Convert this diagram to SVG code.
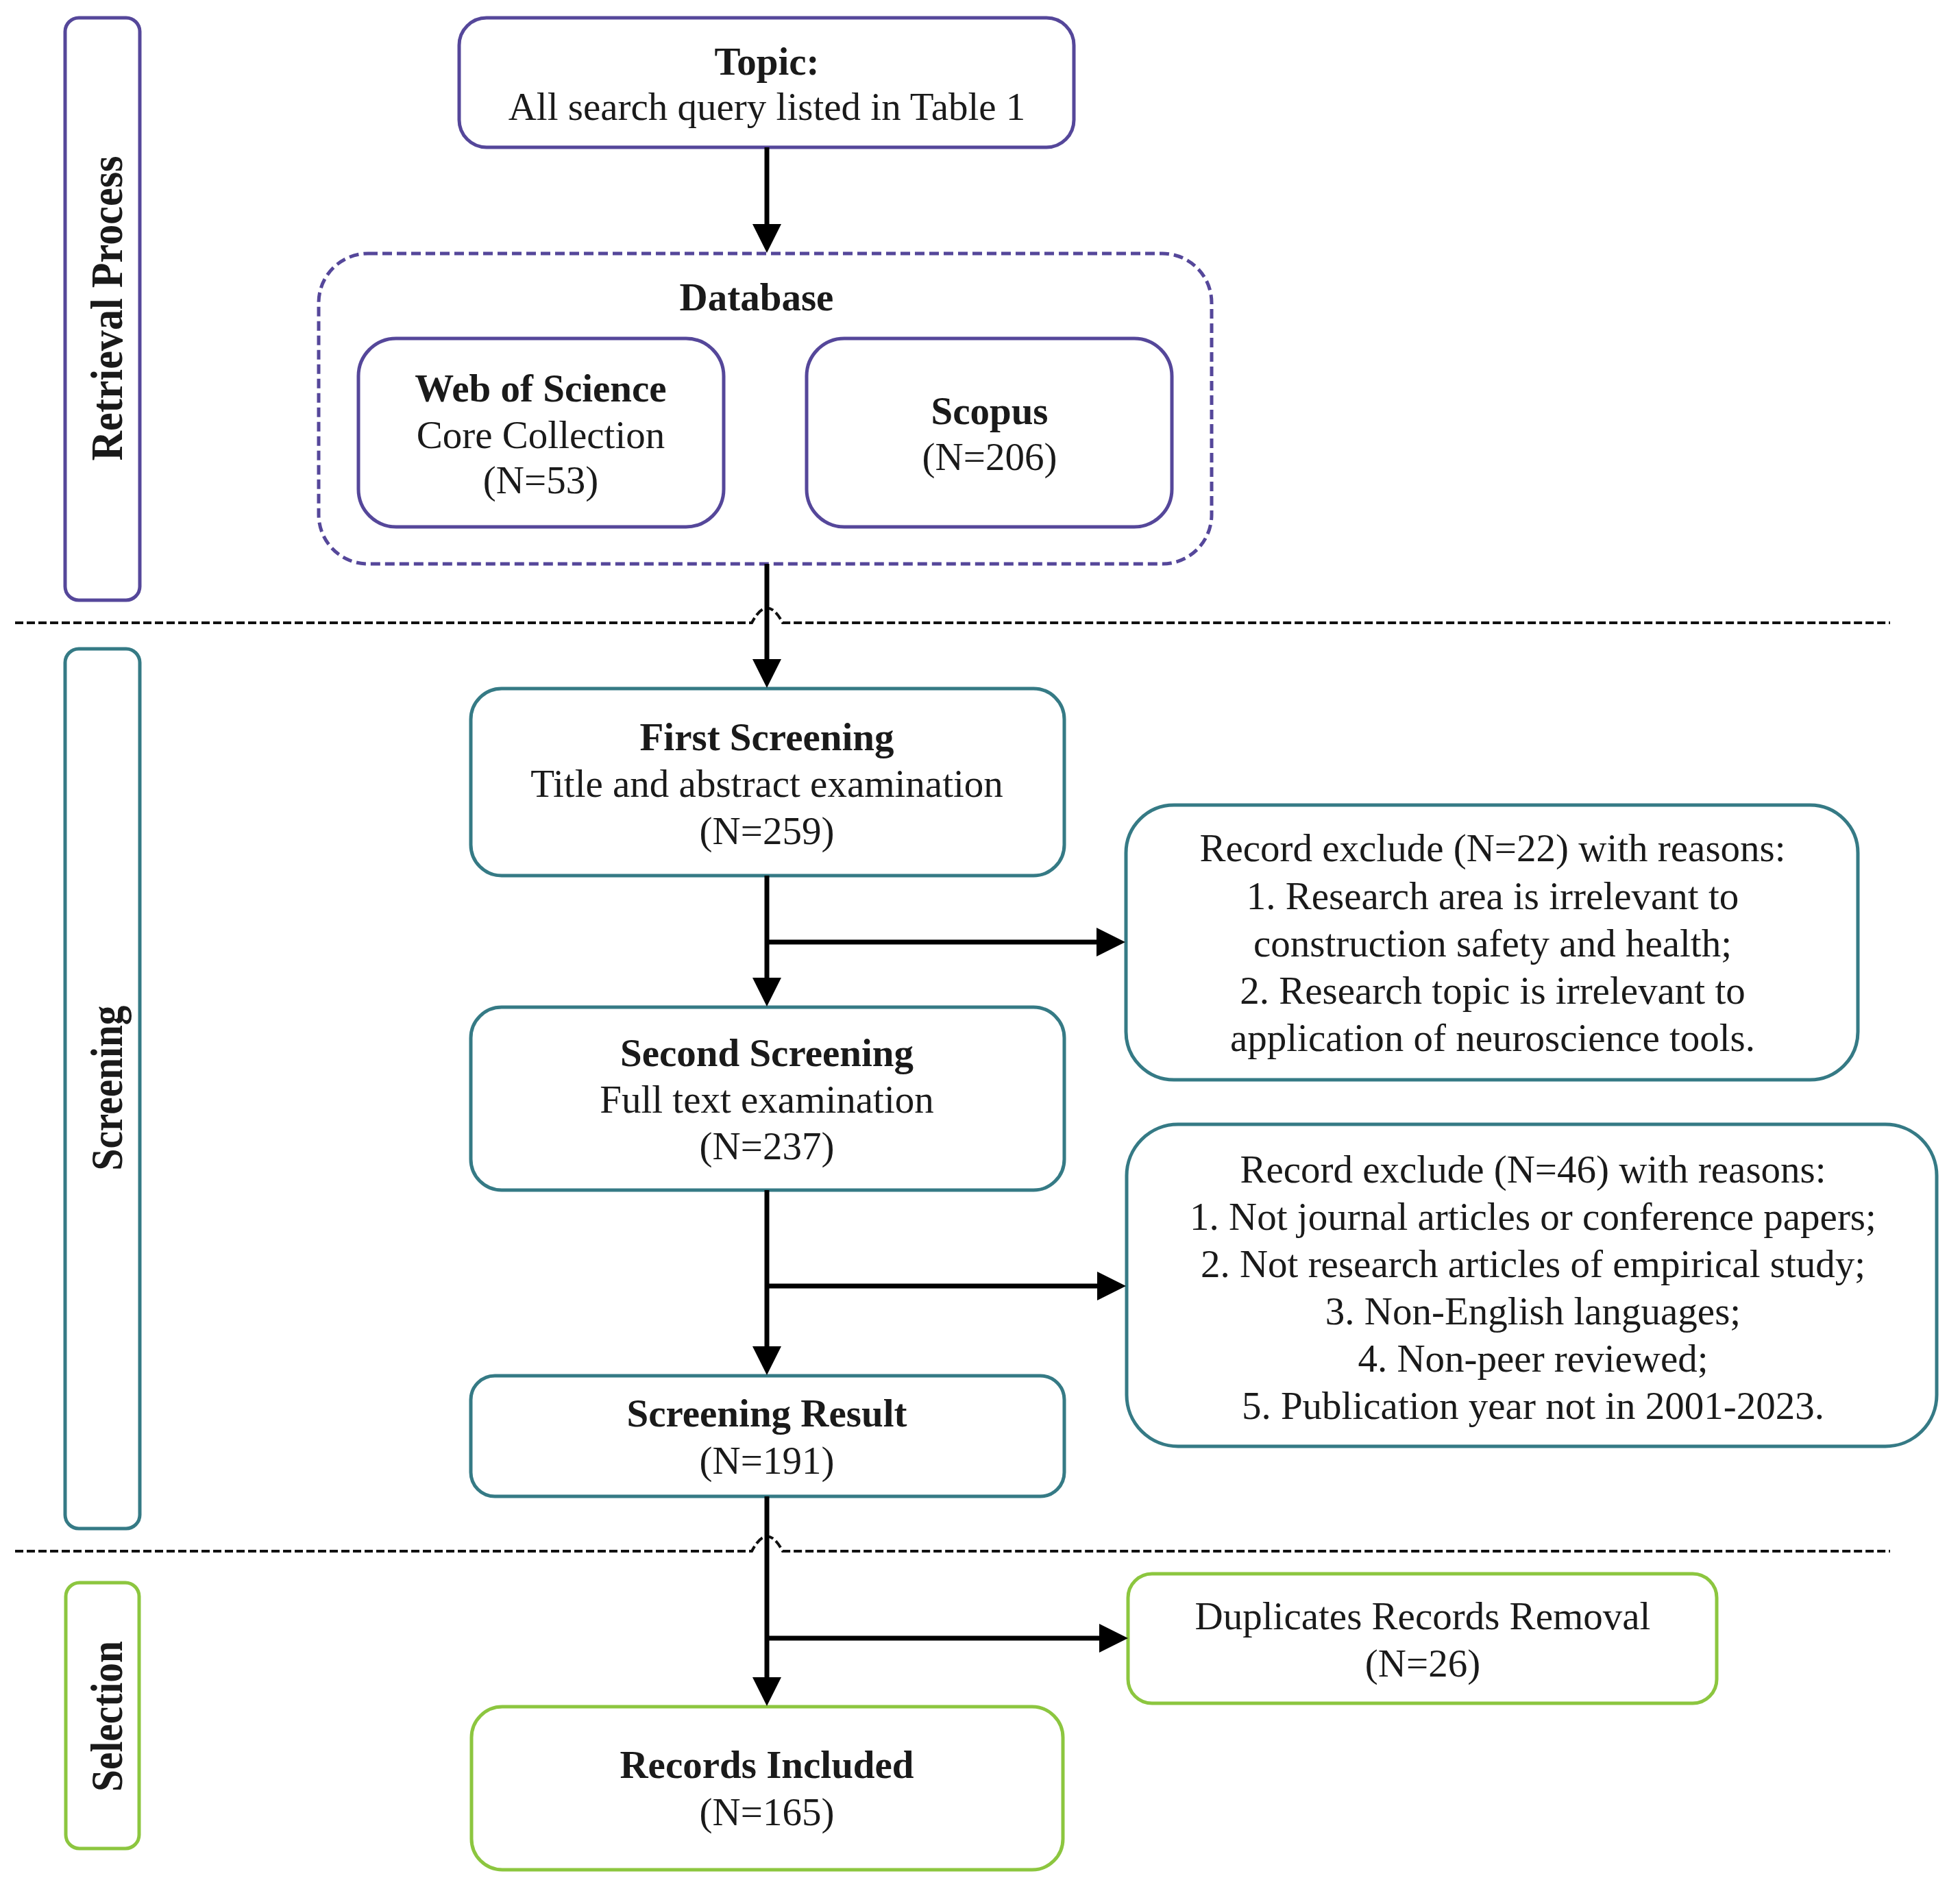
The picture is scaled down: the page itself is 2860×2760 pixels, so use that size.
<svg xmlns="http://www.w3.org/2000/svg" width="2860" height="2760" viewBox="0 0 2860 2760">
<style>
text{font-family:"Liberation Serif","Times New Roman",serif;font-size:57px;fill:#1a1a1a;text-anchor:middle}
.b{font-weight:bold}
.side{font-weight:bold;font-size:66px}
.p{fill:#fff;stroke:#55479a;stroke-width:5}
.t{fill:#fff;stroke:#357a85;stroke-width:5}
.g{fill:#fff;stroke:#8cc63f;stroke-width:5}
.pd{fill:none;stroke:#55479a;stroke-width:5;stroke-dasharray:14 7}
.sep{fill:none;stroke:#111;stroke-width:4;stroke-dasharray:12 5}
.ar{fill:none;stroke:#000;stroke-width:7}
</style>
<defs>
<marker id="ah" viewBox="0 0 42 42" refX="1" refY="21" markerWidth="42" markerHeight="42" markerUnits="userSpaceOnUse" orient="auto">
<path d="M0,0 L42,21 L0,42 z" fill="#000"/>
</marker>
</defs>
<rect width="2860" height="2760" fill="#fff"/>

<g id="separators">
<path class="sep" d="M22,909 H1097 Q1119.5,866 1142,909 H2758"/>
<path class="sep" d="M22,2264 H1097 Q1119.5,2221 1142,2264 H2758"/>
</g>

<g id="stage-retrieval">
<rect class="p" x="95" y="26" width="109" height="850" rx="20"/>
<text class="side" transform="translate(178,450) rotate(-90)" textLength="445" lengthAdjust="spacingAndGlyphs">Retrieval  Process</text>
</g>
<g id="stage-screening">
<rect class="t" x="95" y="947" width="109" height="1284" rx="20"/>
<text class="side" transform="translate(178,1588) rotate(-90)" textLength="241" lengthAdjust="spacingAndGlyphs">Screening</text>
</g>
<g id="stage-selection">
<rect class="g" x="96" y="2310" width="107" height="388" rx="20"/>
<text class="side" transform="translate(178,2505) rotate(-90)" textLength="220" lengthAdjust="spacingAndGlyphs">Selection</text>
</g>

<g id="topic">
<rect class="p" x="670" y="26" width="897" height="189" rx="40"/>
<text class="b" x="1119" y="109">Topic:</text>
<text x="1119" y="175">All search query listed in Table 1</text>
</g>

<g id="database">
<rect class="pd" x="465" y="370" width="1303" height="453" rx="72"/>
<text class="b" x="1104" y="453">Database</text>
</g>
<g id="wos">
<rect class="p" x="523" y="494" width="533" height="275" rx="55"/>
<text class="b" x="789" y="586">Web of Science</text>
<text x="789" y="654">Core Collection</text>
<text x="789" y="720">(N=53)</text>
</g>
<g id="scopus">
<rect class="p" x="1177" y="494" width="533" height="275" rx="55"/>
<text class="b" x="1444" y="619">Scopus</text>
<text x="1444" y="686">(N=206)</text>
</g>

<g id="first-screening">
<rect class="t" x="687" y="1005" width="866" height="273" rx="45"/>
<text class="b" x="1119" y="1095">First Screening</text>
<text x="1119" y="1163">Title and abstract examination</text>
<text x="1119" y="1232">(N=259)</text>
</g>
<g id="exclude-1">
<rect class="t" x="1643" y="1175" width="1068" height="401" rx="70"/>
<text x="2178" y="1257">Record exclude (N=22) with reasons:</text>
<text x="2178" y="1327">1. Research area is irrelevant to</text>
<text x="2178" y="1396">construction safety and health;</text>
<text x="2178" y="1465">2. Research topic is irrelevant to</text>
<text x="2178" y="1534">application of neuroscience tools.</text>
</g>
<g id="second-screening">
<rect class="t" x="687" y="1470" width="866" height="267" rx="45"/>
<text class="b" x="1119" y="1556">Second Screening</text>
<text x="1119" y="1624">Full text examination</text>
<text x="1119" y="1692">(N=237)</text>
</g>
<g id="exclude-2">
<rect class="t" x="1644" y="1641" width="1182" height="470" rx="75"/>
<text x="2237" y="1726">Record exclude (N=46) with reasons:</text>
<text x="2237" y="1795">1. Not journal articles or conference papers;</text>
<text x="2237" y="1864">2. Not research articles of empirical study;</text>
<text x="2237" y="1933">3. Non-English languages;</text>
<text x="2237" y="2002">4. Non-peer reviewed;</text>
<text x="2237" y="2071">5. Publication year not in 2001-2023.</text>
</g>
<g id="screening-result">
<rect class="t" x="687" y="2008" width="866" height="176" rx="35"/>
<text class="b" x="1119" y="2082">Screening Result</text>
<text x="1119" y="2151">(N=191)</text>
</g>
<g id="duplicates">
<rect class="g" x="1646" y="2297" width="859" height="189" rx="35"/>
<text x="2076" y="2378">Duplicates Records Removal</text>
<text x="2076" y="2447">(N=26)</text>
</g>
<g id="records-included">
<rect class="g" x="688" y="2491" width="863" height="238" rx="45"/>
<text class="b" x="1119" y="2595">Records Included</text>
<text x="1119" y="2664">(N=165)</text>
</g>

<g id="connectors">
<path class="ar" d="M1119,215 V328" marker-end="url(#ah)"/>
<path class="ar" d="M1119,823 V963" marker-end="url(#ah)"/>
<path class="ar" d="M1119,1278 V1428" marker-end="url(#ah)"/>
<path class="ar" d="M1119,1375 H1601" marker-end="url(#ah)"/>
<path class="ar" d="M1119,1737 V1966" marker-end="url(#ah)"/>
<path class="ar" d="M1119,1877 H1602" marker-end="url(#ah)"/>
<path class="ar" d="M1119,2184 V2449" marker-end="url(#ah)"/>
<path class="ar" d="M1119,2391 H1605" marker-end="url(#ah)"/>
</g>
</svg>
